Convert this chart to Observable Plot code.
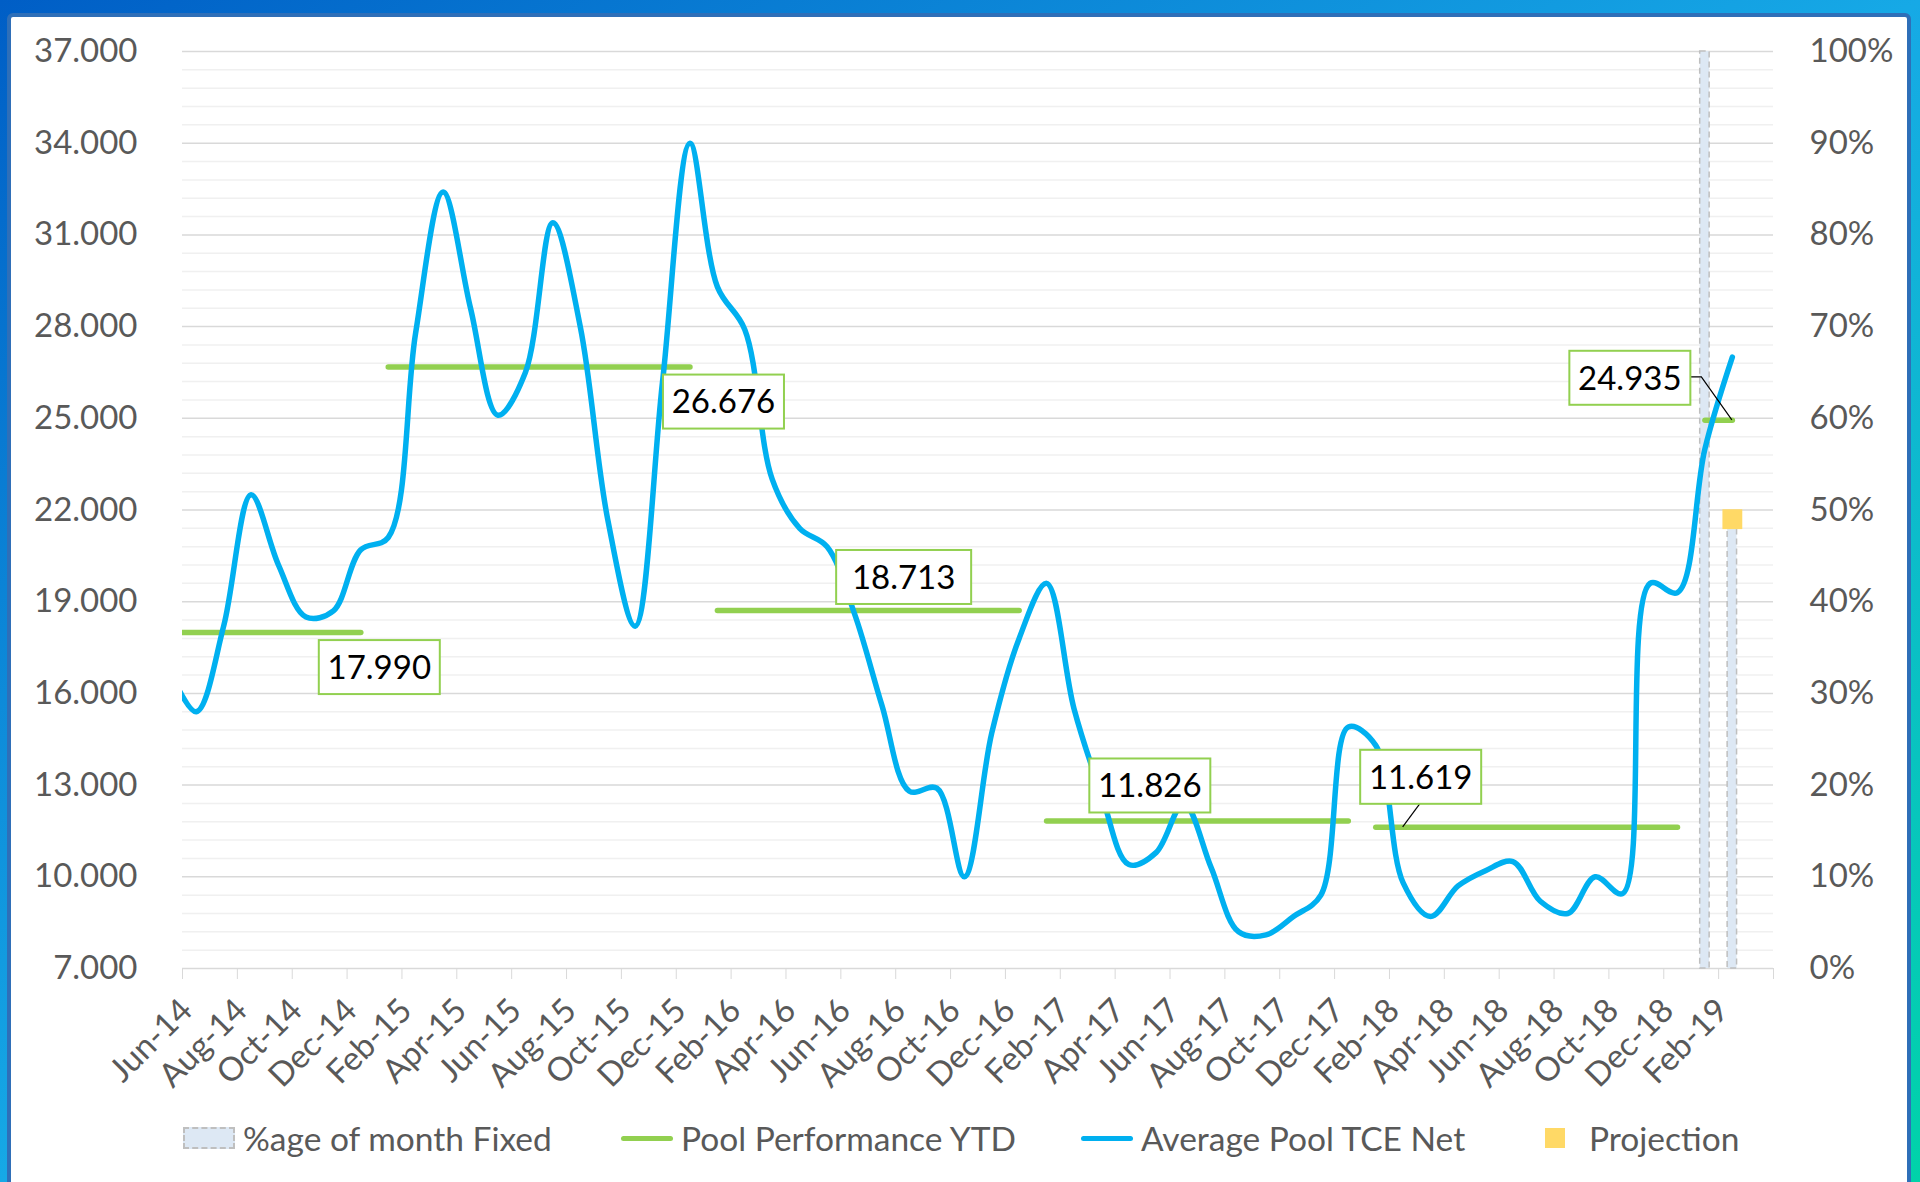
<!DOCTYPE html>
<html><head><meta charset="utf-8">
<script src="https://cdn.jsdelivr.net/npm/d3@7"></script>
<script src="https://cdn.jsdelivr.net/npm/@observablehq/plot@0.6"></script>
<style>
html,body{margin:0;padding:0;width:1920px;height:1182px;overflow:hidden;}
body{background:linear-gradient(to bottom right,#005ec6 0%,#16a9e6 50%,#00d3a9 100%);position:relative;font-family:Lato,sans-serif;}
#panel{position:absolute;left:7px;top:13px;width:1904px;height:1200px;box-sizing:border-box;border:4px solid #2f6fb8;border-radius:6px;background:#fff;}
#chart{position:absolute;left:0;top:0;}
#legend{position:absolute;left:0;top:1116px;width:1920px;height:44px;font-size:33.5px;color:#595959;white-space:nowrap;}
.item{position:absolute;top:0;height:44px;display:flex;align-items:center;}
.sw{width:52px;margin-right:8px;box-sizing:border-box;display:flex;justify-content:center;align-items:center;}
</style></head><body>
<div id="panel"></div><div id="chart"></div><div id="legend"></div>
<script>
// ---- data ----
const months = ["May-14","Jun-14","Jul-14","Aug-14","Sep-14","Oct-14","Nov-14","Dec-14",
  "Jan-15","Feb-15","Mar-15","Apr-15","May-15","Jun-15","Jul-15","Aug-15","Sep-15","Oct-15","Nov-15","Dec-15",
  "Jan-16","Feb-16","Mar-16","Apr-16","May-16","Jun-16","Jul-16","Aug-16","Sep-16","Oct-16","Nov-16","Dec-16",
  "Jan-17","Feb-17","Mar-17","Apr-17","May-17","Jun-17","Jul-17","Aug-17","Sep-17","Oct-17","Nov-17","Dec-17",
  "Jan-18","Feb-18","Mar-18","Apr-18","May-18","Jun-18","Jul-18","Aug-18","Sep-18","Oct-18","Nov-18","Dec-18",
  "Jan-19","Feb-19"];
const tceNet = [16800,15400,18200,22500,20200,18500,18700,20700,
  21100,27800,32400,28600,25100,26500,31400,28000,21700,18200,26200,34000,
  29300,27900,23000,21400,20800,18600,15600,12800,12900,10000,14700,17800,
  19600,15500,12700,10400,10800,12400,10300,8200,8100,8700,9400,14900,
  14300,9800,8700,9700,10200,10500,9200,8800,10000,9450,19600,19300,
  24000,27000];
const ytdYears = ["14","15","16","17","18","19"];
const ytdValues = [17990,26676,18713,11826,11619,24935];
const fixedMonths = ["Jan-19","Feb-19"];
const fixedPct = [1.00,0.48];
const projectionMonths = ["Feb-19"];
const projectionValues = [21700];
const xTickLabels = ["Jun-14","Aug-14","Oct-14","Dec-14","Feb-15","Apr-15","Jun-15","Aug-15","Oct-15","Dec-15",
  "Feb-16","Apr-16","Jun-16","Aug-16","Oct-16","Dec-16","Feb-17","Apr-17","Jun-17","Aug-17","Oct-17","Dec-17",
  "Feb-18","Apr-18","Jun-18","Aug-18","Oct-18","Dec-18","Feb-19"];
const yTicks = [7000,10000,13000,16000,19000,22000,25000,28000,31000,34000,37000];
const yTickLabels = ["7.000","10.000","13.000","16.000","19.000","22.000","25.000","28.000","31.000","34.000","37.000"];
const pctTickLabels = ["0%","10%","20%","30%","40%","50%","60%","70%","80%","90%","100%"];
const yMinorStep = 600;
const labelMonths = ["Dec-14","Dec-15","Dec-16","Dec-17","Feb-18","Feb-19"];

// ---- helpers ----
const axisStart = "Jun-14";
const mIdx = m => months.indexOf(m) - months.indexOf(axisStart); // Jun-14 = 0
const yearOf = m => m.slice(4);
const ytdOf = m => ytdValues[ytdYears.indexOf(yearOf(m))];
const fmt3 = v => (v/1000).toFixed(3);

const tceRows = months.map((m,k) => ({m, v: tceNet[k]}));
const ytdRows = months.map(m => ({m, year: yearOf(m), v: ytdOf(m)}));
const fixedRows = fixedMonths.map((m,k) => ({m, p: fixedPct[k]}));
const projRows = projectionMonths.map((m,k) => ({m, v: projectionValues[k]}));
const majorRows = yTicks.map((t,k) => ({t, left: yTickLabels[k], right: pctTickLabels[k]}));
const minorTicks = d3.range(yTicks[0], yTicks[yTicks.length-1] + 1, yMinorStep).filter(t => !yTicks.includes(t));
const xTickIdx = d3.range(0, 59, 2);
const pctToY = p => yTicks[0] + p*(yTicks[yTicks.length-1]-yTicks[0]);

// label styling (pixel offsets from anchor point)
const labelStyle = [
  {dx: 19, dy: 35, w: 121},
  {dx: 34, dy: 35, w: 121},
  {dx: -115, dy: -33, w: 135},
  {dx: -198, dy: -35, w: 121},
  {dx: 18, dy: -50, w: 121, leader: "down"},
  {dx: -102, dy: -42, w: 121, leader: "right"}
];
const labelRows = labelMonths.map((m,k) => ({m, v: ytdOf(m), text: fmt3(ytdOf(m)), ...labelStyle[k]}));

function dataLabels(index, scales) {
  const sx = typeof scales.x === "function" ? scales.x : scales.scales.x.apply;
  const sy = typeof scales.y === "function" ? scales.y : scales.scales.y.apply;
  const g = d3.create("svg:g").attr("font-family","Lato, sans-serif").attr("font-size",33);
  for (const L of labelRows) {
    const px = sx(mIdx(L.m) + 0.5), py = sy(L.v);
    const cx = px + L.dx, cy = py + L.dy;
    if (L.leader === "right") {
      g.append("path").attr("d", `M${cx + L.w/2},${cy - 1}H${cx + L.w/2 + 11}L${px},${py}`)
        .attr("fill","none").attr("stroke","#000").attr("stroke-width",1.2);
    } else if (L.leader === "down") {
      g.append("path").attr("d", `M${cx - 1},${cy + 27}L${px},${py}`)
        .attr("fill","none").attr("stroke","#000").attr("stroke-width",1.2);
    }
    g.append("rect").attr("x", cx - L.w/2).attr("y", cy - 27).attr("width", L.w).attr("height", 54)
      .attr("fill","#fff").attr("stroke","#92d050").attr("stroke-width",2);
    g.append("text").attr("x", cx).attr("y", cy).attr("dy","0.36em").attr("text-anchor","middle")
      .attr("fill","#000").text(L.text);
  }
  return g.node();
}

const chart = Plot.plot({
  width: 1920, height: 1100,
  marginLeft: 182, marginRight: 147, marginTop: 51, marginBottom: 132,
  style: {background: "transparent", color: "#d9d9d9", fontFamily: "Lato, sans-serif", overflow: "visible"},
  x: {domain: [0, 58], ticks: xTickIdx, tickSize: 11, tickFormat: () => "", label: null},
  y: {domain: [yTicks[0], yTicks[yTicks.length-1]], axis: null},
  marks: [
    Plot.ruleY(minorTicks, {y: d => d, stroke: "#f0f0f0", strokeWidth: 1.5}),
    Plot.ruleY(majorRows, {y: "t", stroke: "#d9d9d9", strokeWidth: 1.5}),
    Plot.rectY(fixedRows, {x1: d => mIdx(d.m), x2: d => mIdx(d.m) + 1, y1: yTicks[0], y2: d => pctToY(d.p),
      insetLeft: 9, insetRight: 9, fill: "#dde8f4", stroke: "#bfbfbf", strokeWidth: 1.5, strokeDasharray: "6,4"}),
    Plot.lineY(ytdRows, {x: d => mIdx(d.m) + 0.5, y: "v", z: "year", stroke: "#92d050", strokeWidth: 5.5,
      strokeLinecap: "round", clip: true}),
    Plot.lineY(tceRows, {x: d => mIdx(d.m) + 0.5, y: "v", curve: "catmull-rom", stroke: "#00b0f0", strokeWidth: 5.5,
      clip: true}),
    Plot.dot(projRows, {x: d => mIdx(d.m) + 0.5, y: "v", symbol: "square", r: 11.2, fill: "#ffd966", stroke: "none"}),
    Plot.text(majorRows, {y: "t", text: "left", frameAnchor: "left", textAnchor: "end", dx: -45,
      fill: "#595959", fontSize: 33}),
    Plot.text(majorRows, {y: "t", text: "right", frameAnchor: "right", textAnchor: "start", dx: 36,
      fill: "#595959", fontSize: 33}),
    Plot.text(xTickLabels, {x: (d,k) => k*2 + 0.5, text: d => d, frameAnchor: "bottom", rotate: -45,
      textAnchor: "end", dx: -2, dy: 44, fill: "#595959", fontSize: 33}),
    dataLabels
  ]
});
document.getElementById("chart").appendChild(chart);

// ---- legend ----
const legendItems = [
  {left: 183, label: "%age of month Fixed", sw: '<div style="width:52px;height:22px;box-sizing:border-box;background:#dde8f4;border:2px dashed #bfbfbf"></div>'},
  {left: 621, label: "Pool Performance YTD", sw: '<div style="width:52px;height:5px;border-radius:3px;background:#92d050"></div>'},
  {left: 1081, label: "Average Pool TCE Net", sw: '<div style="width:52px;height:5px;border-radius:3px;background:#00b0f0"></div>'},
  {left: 1529, label: "Projection", sw: '<div style="width:20px;height:20px;background:#ffd966"></div>'}
];
const lg = document.getElementById("legend");
for (const it of legendItems) {
  const d = document.createElement("div");
  d.className = "item";
  d.style.left = it.left + "px";
  d.innerHTML = `<div class="sw">${it.sw}</div><span>${it.label}</span>`;
  lg.appendChild(d);
}
</script></body></html>
